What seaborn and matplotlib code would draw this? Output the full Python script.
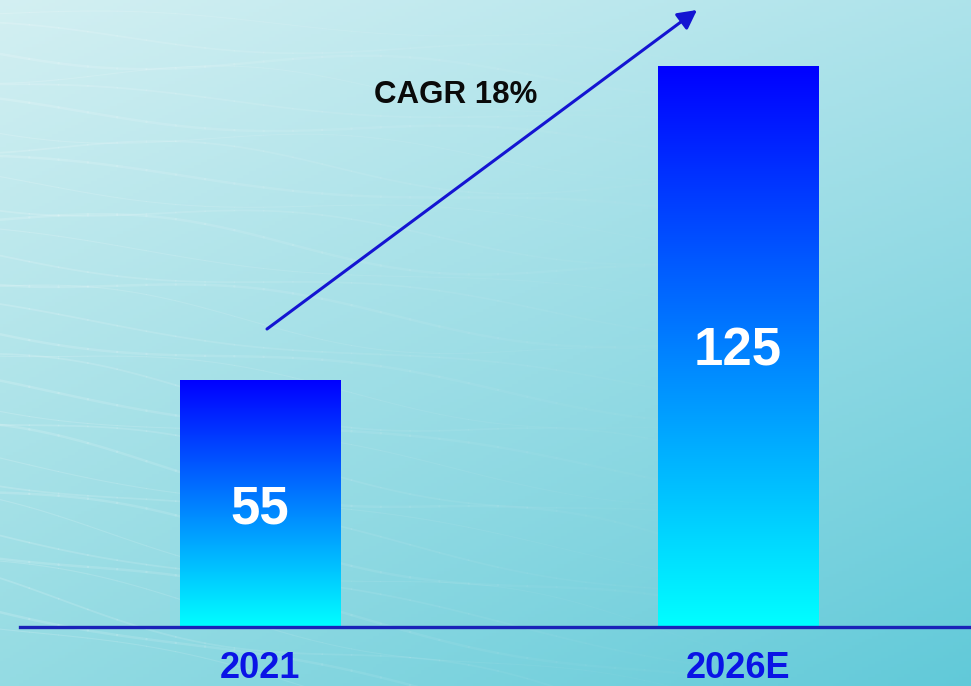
import numpy as np
import pandas as pd
import matplotlib
matplotlib.use("Agg")
import matplotlib.pyplot as plt
from matplotlib.colors import LinearSegmentedColormap
import seaborn as sns

# Market size by year
years = ["2021", "2026E"]
values = [55, 125]
cagr_label = "CAGR 18%"

sns.set_theme(style="white")
plt.rcParams["font.family"] = ["Liberation Sans", "DejaVu Sans"]

W, H, DPI = 971, 686, 100
fig = plt.figure(figsize=(W / DPI, H / DPI), dpi=DPI)

# ---- background: soft teal gradient with faint light streaks ----
bg = fig.add_axes([0, 0, 1, 1], zorder=0)
bg.set_axis_off()
tl = np.array([0.83, 0.94, 0.95])
tr = np.array([0.68, 0.89, 0.92])
bl = np.array([0.58, 0.86, 0.89])
br = np.array([0.38, 0.79, 0.85])
u = np.linspace(0, 1, 300)[None, :, None]
v = np.linspace(0, 1, 220)[:, None, None]
img = (1 - v) * ((1 - u) * tl + u * tr) + v * ((1 - u) * bl + u * br)
bg.imshow(img, extent=[0, 1, 0, 1], aspect="auto", origin="upper")
bg.set_xlim(0, 1)
bg.set_ylim(0, 1)

# fibre-like streaks fanning out from the left edge, drifting down-right
xs = np.linspace(0.0, 0.9, 180)
for k in range(34):
    y0 = 0.98 - k * 0.027
    slope = -0.05 - 0.25 * (k / 34)
    amp = 0.010 + 0.004 * (k % 4)
    ys = y0 + slope * xs + amp * np.sin(11 * xs + 1.7 * k)
    fade = np.clip(1.0 - xs / 0.85, 0, 1) ** 1.3
    for i in range(0, len(xs) - 6, 6):
        bg.plot(xs[i:i + 7], ys[i:i + 7], color="white",
                alpha=0.16 * fade[i], lw=0.8 + (k % 3) * 0.5,
                solid_capstyle="round")

# ---- chart axes ----
left = 20 / W
bottom = (H - 627) / H
ax = fig.add_axes([left, bottom, 1 - left, 1 - bottom], zorder=1)
ax.patch.set_alpha(0)

df = pd.DataFrame({"year": years, "value": values})
sns.barplot(data=df, x="year", y="value", ax=ax, width=0.335,
            color="#0000ff", saturation=1)

px_per_unit = (627 - 380) / 55.0
ax.set_ylim(0, 627 / px_per_unit)
ax.set_xlim((20 - 260) / 478, (971 - 260) / 478)

# vertical blue-to-cyan gradient inside each bar
grad_cmap = LinearSegmentedColormap.from_list("bar", ["#00ffff", "#0000ff"])
grad = np.linspace(0, 1, 256)[:, None]
for patch in ax.patches:
    x0, y0 = patch.get_x(), patch.get_y()
    w, h = patch.get_width(), patch.get_height()
    patch.set_facecolor("none")
    patch.set_edgecolor("none")
    im = ax.imshow(grad, cmap=grad_cmap, origin="lower", aspect="auto",
                   extent=[x0, x0 + w, y0, y0 + h], zorder=2)
    im.set_clip_path(patch)
    ax.text(x0 + w / 2, y0 + h / 2, f"{h:g}", ha="center",
            va="center_baseline", color="white", fontsize=38,
            fontweight="bold", zorder=3)

# baseline and spines
for s in ["top", "right", "left"]:
    ax.spines[s].set_visible(False)
ax.spines["bottom"].set_color("#1a22b8")
ax.spines["bottom"].set_linewidth(2.4)
ax.set_yticks([])
ax.set_xlabel("")
ax.set_ylabel("")
ax.tick_params(axis="x", length=0, pad=17, labelsize=26,
               labelcolor="#0a14e6")
for lab in ax.get_xticklabels():
    lab.set_fontweight("bold")

# growth arrow and CAGR label
ax.annotate("", xy=((697 - 260) / 478, (627 - 10) / px_per_unit),
            xytext=((267 - 260) / 478, (627 - 329) / px_per_unit),
            arrowprops=dict(arrowstyle="-|>,head_length=0.95,head_width=0.5",
                            color="#1414d2", lw=2.2, shrinkA=0, shrinkB=0),
            zorder=4)
ax.text((456 - 260) / 478, (627 - 95) / px_per_unit, cagr_label,
        ha="center", va="center", fontsize=22.5, fontweight="bold",
        color="#0a0a0a", zorder=4)

fig.savefig("out.png", dpi=DPI)
